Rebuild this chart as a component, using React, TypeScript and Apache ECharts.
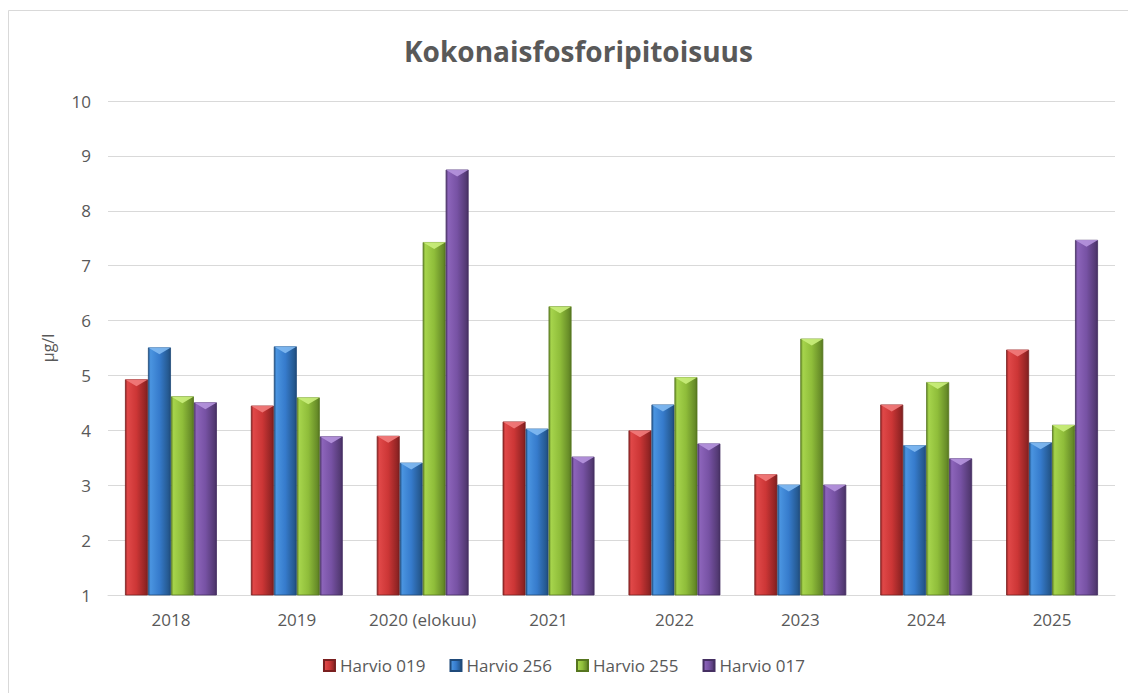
import React, { useEffect, useRef } from "react";
import * as echarts from "echarts";

const categories = ["2018", "2019", "2020 (elokuu)", "2021", "2022", "2023", "2024", "2025"];
const seriesNames = ["Harvio 019", "Harvio 256", "Harvio 255", "Harvio 017"];
const harvio019 = [4.93, 4.45, 3.9, 4.16, 4.0, 3.2, 4.47, 5.47];
const harvio256 = [5.51, 5.53, 3.41, 4.03, 4.47, 3.01, 3.73, 3.78];
const harvio255 = [4.62, 4.6, 7.43, 6.26, 4.97, 5.67, 4.88, 4.1];
const harvio017 = [4.51, 3.89, 8.75, 3.52, 3.76, 3.01, 3.49, 7.47];
const seriesValues = [harvio019, harvio256, harvio255, harvio017];
const yTicks = { min: 1, max: 10, interval: 1 };

const palettes = [
  { light: "#e04848", main: "#cc3636", dark: "#922424", top: "#f27c7c", border: "#7a1f1f" },
  { light: "#4a94e0", main: "#367bcc", dark: "#255990", top: "#82baf2", border: "#1f4a7a" },
  { light: "#a6d44c", main: "#8fbd3a", dark: "#678c28", top: "#caee7c", border: "#56761f" },
  { light: "#8c64ba", main: "#7752a4", dark: "#543a74", top: "#b695de", border: "#452f62" },
];

const textColor = "#595959";
const font = "'Open Sans', 'Noto Sans', sans-serif";

export default function App() {
  const ref = useRef<HTMLDivElement>(null);
  useEffect(() => {
    if (!ref.current) return;
    const chart = echarts.init(ref.current, undefined, { renderer: "svg" });
    const barSeries = seriesValues.map((vals, i) => {
      const p = palettes[i];
      return {
        name: seriesNames[i],
        type: "bar",
        data: vals,
        barGap: "0%",
        barCategoryGap: "27%",
        clip: true,
        itemStyle: {
          color: new echarts.graphic.LinearGradient(0, 0, 1, 0, [
            { offset: 0, color: p.dark },
            { offset: 0.1, color: p.light },
            { offset: 0.5, color: p.main },
            { offset: 0.9, color: p.dark },
            { offset: 1, color: p.border },
          ]),
          borderColor: p.border,
          borderWidth: 0.8,
        },
        emphasis: { disabled: true },
        z: 2,
      };
    });
    const topSeries = seriesValues.map((vals, i) => {
      const p = palettes[i];
      return {
        name: "_top" + i,
        type: "pictorialBar",
        data: vals,
        barGap: "0%",
        barCategoryGap: "27%",
        symbol: "triangle",
        symbolRotate: 180,
        symbolSize: ["100%", 7],
        symbolPosition: "end",
        silent: true,
        itemStyle: { color: p.top, opacity: 0.9 },
        z: 3,
      };
    });
    chart.setOption({
      animation: false,
      backgroundColor: "#ffffff",
      textStyle: { fontFamily: font },
      title: {
        text: "Kokonaisfosforipitoisuus",
        left: 399,
        top: 32,
        textStyle: { fontFamily: font, fontSize: 28, fontWeight: "bold", color: textColor },
      },
      graphic: [
        {
          type: "rect",
          shape: { x: 8.5, y: 10.5, width: 1200, height: 800 },
          style: { fill: "none", stroke: "#d9d9d9", lineWidth: 1 },
          silent: true,
        },
      ],
      legend: {
        data: seriesNames,
        bottom: 14,
        left: "center",
        icon: "rect",
        itemWidth: 11,
        itemHeight: 11,
        itemGap: 24,
        textStyle: { fontFamily: font, fontSize: 17, color: textColor },
      },
      grid: { left: 108, right: 13, top: 101, bottom: 98 },
      xAxis: {
        type: "category",
        data: categories,
        axisLine: { lineStyle: { color: "#d9d9d9", width: 1 } },
        axisTick: { show: false },
        axisLabel: { fontFamily: font, fontSize: 17, color: textColor, margin: 16, interval: 0 },
      },
      yAxis: {
        type: "value",
        min: yTicks.min,
        max: yTicks.max,
        interval: yTicks.interval,
        name: "µg/l",
        nameLocation: "middle",
        nameGap: 52,
        nameRotate: 90,
        nameTextStyle: { fontFamily: font, fontSize: 16, color: textColor },
        axisLine: { show: false },
        axisTick: { show: false },
        axisLabel: { fontFamily: font, fontSize: 17, color: textColor, margin: 17 },
        splitLine: { lineStyle: { color: "#d9d9d9", width: 1 } },
      },
      series: [...barSeries, ...topSeries],
    });
    return () => chart.dispose();
  }, []);
  return (
    <div
      ref={ref}
      style={{ position: "fixed", left: 0, top: 0, width: 1128, height: 693 }}
    />
  );
}
